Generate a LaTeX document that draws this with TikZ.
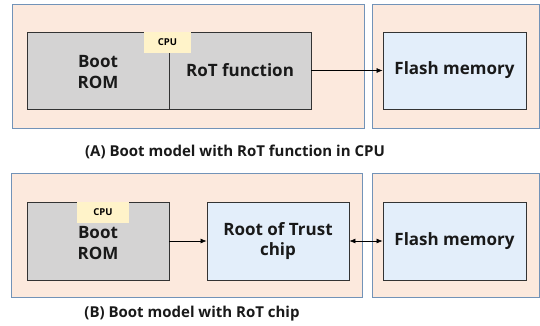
\documentclass[tikz,border=0pt]{standalone}
\usepackage{fontspec}
\setmainfont{Open Sans}
\usetikzlibrary{arrows.meta}
\definecolor{peach}{HTML}{FCE9DD}
\definecolor{frameblue}{HTML}{7293B8}
\definecolor{romgray}{HTML}{D4D3D3}
\definecolor{chipblue}{HTML}{E3EEFA}
\definecolor{cpuyellow}{HTML}{FFF3C9}
\tikzset{
  outerbox/.style={draw=frameblue, fill=peach, line width=1pt},
  graybox/.style={draw=black!80, fill=romgray, line width=0.9pt},
  bluebox/.style={draw=black!80, fill=chipblue, line width=0.9pt},
  cpulab/.style={fill=cpuyellow, font=\bfseries\fontsize{9.5}{10}\selectfont, inner sep=0pt},
  boxtext/.style={font=\bfseries\fontsize{17}{20.5}\selectfont, align=center, text=black!90},
  captext/.style={font=\bfseries\fontsize{15}{17}\selectfont, text=black!90},
  conn/.style={-{Latex[length=6pt,width=5pt]}, line width=0.6pt},
  biconn/.style={{Latex[length=6pt,width=5pt]}-{Latex[length=6pt,width=5pt]}, line width=0.6pt}
}
\begin{document}
\begin{tikzpicture}[x=1pt,y=-1pt]
\useasboundingbox (0,0) rectangle (540,325);
% ---------- (A) ----------
\draw[outerbox] (12,4) rectangle (364,128);
\draw[outerbox] (372,4) rectangle (539,128);
\draw[graybox] (27,32) rectangle (311,109);
\draw[black!80, line width=0.9pt] (169,32) -- (169,109);
\node[cpulab, minimum width=47pt, minimum height=21pt] (cpuA) at (167.5,42.5) {CPU};
\node[boxtext] (bootA) at (98,72) {Boot\\ROM};
\node[boxtext, minimum width=142pt, minimum height=77pt] (rotA) at (240,70.5) {RoT function};
\node[bluebox, boxtext, minimum width=143pt, minimum height=77pt] (flashA) at (454.5,70.5) {Flash memory};
\draw[conn] (rotA.east) -- (flashA.west);
\node[captext] (capA) at (235,152) {(A) Boot model with RoT function in CPU};
% ---------- (B) ----------
\draw[outerbox] (11,173) rectangle (362,297);
\draw[outerbox] (372,173) rectangle (539,297);
\node[graybox, minimum width=142pt, minimum height=78pt] (romB) at (98,241) {};
\node[cpulab, minimum width=52pt, minimum height=21pt] (cpuB) at (103,212.5) {CPU};
\node[boxtext] (bootB) at (98,243) {Boot\\ROM};
\node[bluebox, boxtext, minimum width=142pt, minimum height=78pt] (rotB) at (278,241) {Root of Trust\\chip};
\node[bluebox, boxtext, minimum width=143pt, minimum height=78pt] (flashB) at (454.5,241) {Flash memory};
\draw[conn] (romB.east) -- (rotB.west);
\draw[biconn] (rotB.east) -- (flashB.west);
\node[captext] (capB) at (192,314) {(B) Boot model with RoT chip};
\end{tikzpicture}
\end{document}
